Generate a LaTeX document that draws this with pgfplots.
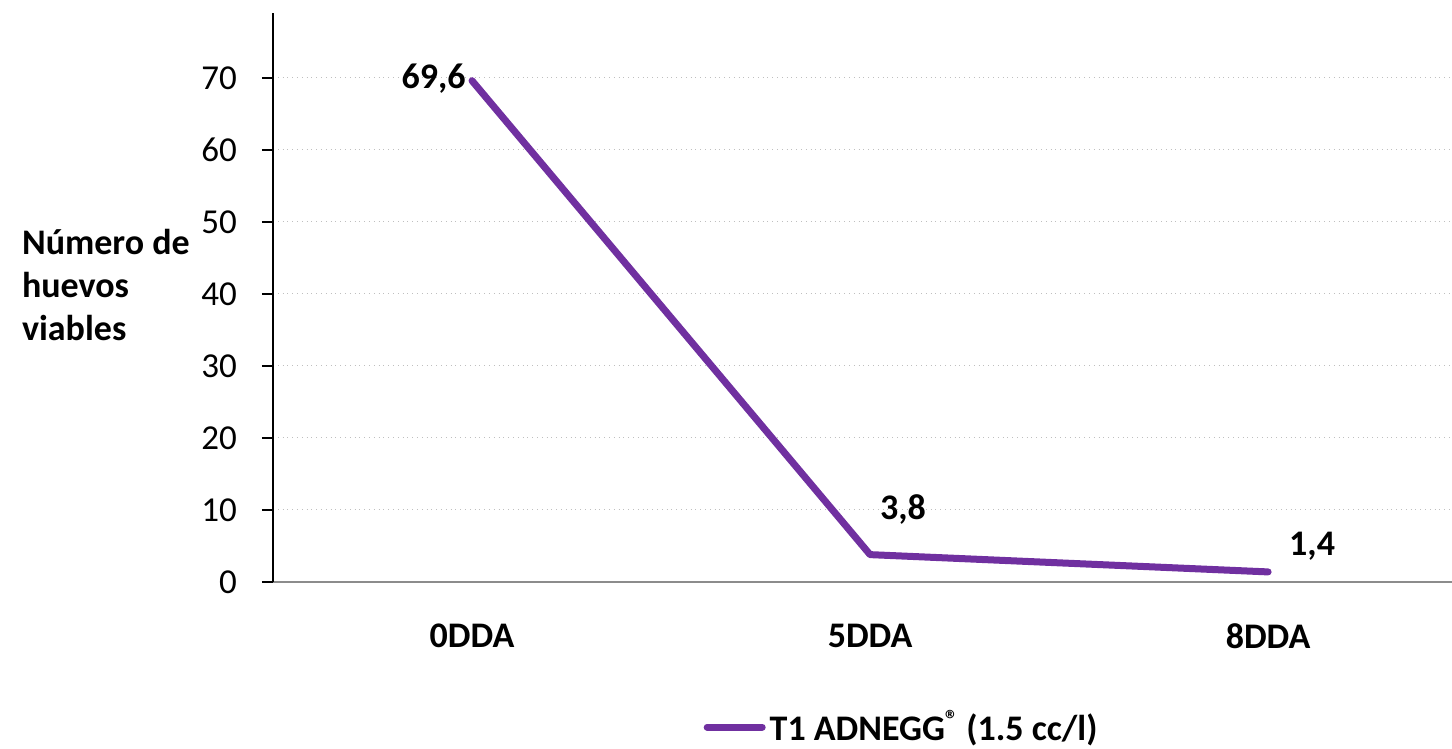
\documentclass[border=0pt]{standalone}
\usepackage{fontspec}
\setmainfont{Carlito}
\usepackage{pgfplots}
\pgfplotsset{compat=1.18}
\definecolor{linepurple}{HTML}{7030A0}
\definecolor{gridgray}{HTML}{BFBFBF}
\definecolor{axgray}{HTML}{8C8C8C}
\begin{document}
\begin{tikzpicture}
\begin{axis}[
  at={(0,0)}, anchor=south west,
  scale only axis,
  width=589.5pt, height=284.5pt,
  xmin=-0.5, xmax=2.462,
  ymin=0, ymax=79,
  axis lines=left,
  axis line style={-},
  x axis line style={axgray, line width=0.7pt},
  y axis line style={black, line width=0.8pt},
  xtick={0,1,2},
  xticklabels={0DDA,5DDA,8DDA},
  major x tick style={draw=none},
  extra x ticks={-0.5,0.5,1.5},
  extra x tick labels={},
  extra x tick style={major tick length=5.5pt, tick style={axgray, line width=0.7pt}, tick align=outside, grid=none},
  ytick={0,10,...,70},
  /pgf/number format/assume math mode=true,
  ymajorgrids,
  grid style={gridgray, dotted, line width=0.5pt},
  major y tick style={black, line width=0.8pt},
  tick align=outside,
  major tick length=5.5pt,
  yticklabel style={font=\fontsize{17.5}{20}\selectfont, xshift=-9pt},
  xticklabel style={font=\bfseries\fontsize{18}{21}\selectfont, yshift=-12pt},
  legend style={at={(0.534,-0.255)}, anchor=center, draw=none, font=\bfseries\fontsize{18}{21}\selectfont, inner sep=0pt},
  legend image code/.code={\draw[#1, line cap=round] (0pt,0pt) -- (27.5pt,0pt);},
  clip=false,
]
\addplot[linepurple, line width=3.5pt, line cap=round, line join=round] coordinates {(0,69.6) (1,3.8) (2,1.4)};
\addlegendentry{T1 ADNEGG\raisebox{0.35em}{\fontsize{13}{13}\selectfont ®} (1.5 cc/l)}
\node[anchor=east, font=\bfseries\fontsize{18}{21}\selectfont, inner sep=1pt, xshift=-2pt, yshift=1pt] at (axis cs:0,69.6) {69,6};
\node[font=\bfseries\fontsize{18}{21}\selectfont, xshift=16.5pt, yshift=22.5pt] at (axis cs:1,3.8) {3,8};
\node[font=\bfseries\fontsize{18}{21}\selectfont, xshift=22pt, yshift=13pt] at (axis cs:2,1.4) {1,4};
\end{axis}
\node[anchor=west, align=left, font=\bfseries\fontsize{18}{21.5}\selectfont] at (-129pt,148.5pt) {Número de\\huevos\\viables};
\pgfresetboundingbox
\path[use as bounding box] (-136.5pt,-83.5pt) rectangle (589.5pt,291pt);
\end{tikzpicture}
\end{document}
